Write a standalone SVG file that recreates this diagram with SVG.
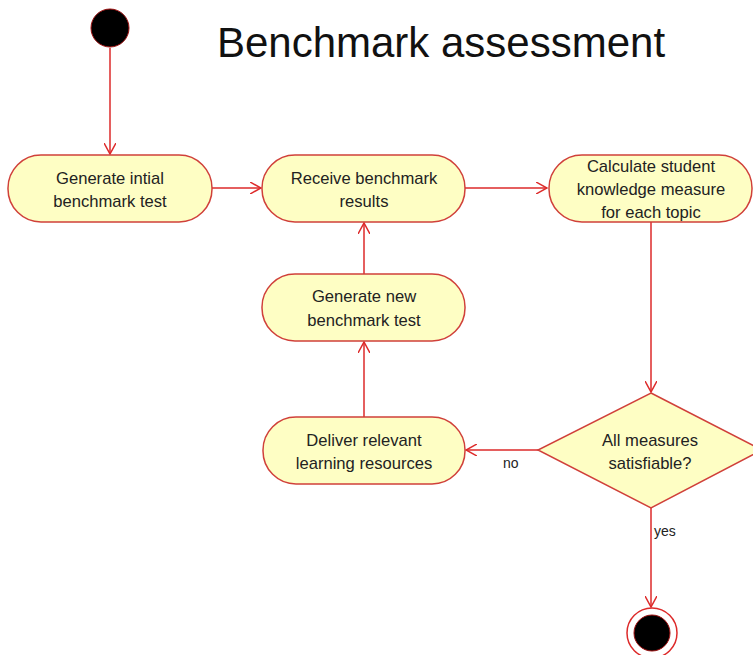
<svg xmlns="http://www.w3.org/2000/svg" width="753" height="655" viewBox="0 0 753 655">
  <style>
    .node { fill: #fefec4; stroke: #d0403a; stroke-width: 1.5; }
    .lbl { font-family: "Liberation Sans", Arial, sans-serif; font-size: 16.6px; fill: #222; text-anchor: middle; }
    .edge { fill: none; stroke: #dd2a2a; stroke-width: 1.5; }
    .guard { font-family: "Liberation Sans", Arial, sans-serif; font-size: 14px; fill: #222; }
  </style>
  <defs>
    <marker id="open" viewBox="0 0 12 12" refX="11" refY="6" markerWidth="12" markerHeight="12" markerUnits="userSpaceOnUse" orient="auto">
      <path d="M0,0 L11,6 L0,12" fill="none" stroke="#dd2a2a" stroke-width="1.5"/>
    </marker>
  </defs>
  <rect width="753" height="655" fill="#ffffff"/>

  <text x="441" y="57" font-family="Liberation Sans, Arial, sans-serif" font-size="42" fill="#111" text-anchor="middle">Benchmark assessment</text>

  <g id="edges">
    <path class="edge" d="M110,48 V154" marker-end="url(#open)"/>
    <path class="edge" d="M212,188 H261" marker-end="url(#open)"/>
    <path class="edge" d="M465,188 H547" marker-end="url(#open)"/>
    <path class="edge" d="M651,222 V392" marker-end="url(#open)"/>
    <path class="edge" d="M538,450 H466" marker-end="url(#open)"/>
    <text class="guard" x="503" y="468">no</text>
    <path class="edge" d="M364,417 V342" marker-end="url(#open)"/>
    <path class="edge" d="M364,274 V223" marker-end="url(#open)"/>
    <path class="edge" d="M651,508 V607" marker-end="url(#open)"/>
    <text class="guard" x="654" y="536">yes</text>
  </g>

  <g id="start">
    <circle cx="110" cy="28" r="19" fill="#000" stroke="#a01010" stroke-width="1"/>
  </g>

  <g id="genInitial">
    <rect class="node" x="8" y="155" width="204" height="67" rx="33" ry="33"/>
    <text class="lbl" x="110" y="184">Generate intial</text>
    <text class="lbl" x="110" y="207">benchmark test</text>
  </g>

  <g id="receive">
    <rect class="node" x="262" y="155" width="203" height="67" rx="33" ry="33"/>
    <text class="lbl" x="364" y="184">Receive benchmark</text>
    <text class="lbl" x="364" y="207">results</text>
  </g>

  <g id="calculate">
    <rect class="node" x="549" y="155" width="203" height="67" rx="33" ry="33"/>
    <text class="lbl" x="651" y="172">Calculate student</text>
    <text class="lbl" x="651" y="195">knowledge measure</text>
    <text class="lbl" x="651" y="218">for each topic</text>
  </g>

  <g id="genNew">
    <rect class="node" x="262" y="274" width="203" height="67" rx="33" ry="33"/>
    <text class="lbl" x="364" y="302">Generate new</text>
    <text class="lbl" x="364" y="326">benchmark test</text>
  </g>

  <g id="deliver">
    <rect class="node" x="263" y="417" width="202" height="67" rx="33" ry="33"/>
    <text class="lbl" x="364" y="446">Deliver relevant</text>
    <text class="lbl" x="364" y="469">learning resources</text>
  </g>

  <g id="decision">
    <polygon class="node" points="651,393 762,450 651,508 538,450"/>
    <text class="lbl" x="650" y="446">All measures</text>
    <text class="lbl" x="650" y="469">satisfiable?</text>
  </g>

  <g id="end">
    <circle cx="652" cy="633" r="25" fill="#fff" stroke="#dd2a2a" stroke-width="1.5"/>
    <circle cx="652" cy="633" r="18" fill="#000" stroke="#a01010" stroke-width="1"/>
  </g>
</svg>
